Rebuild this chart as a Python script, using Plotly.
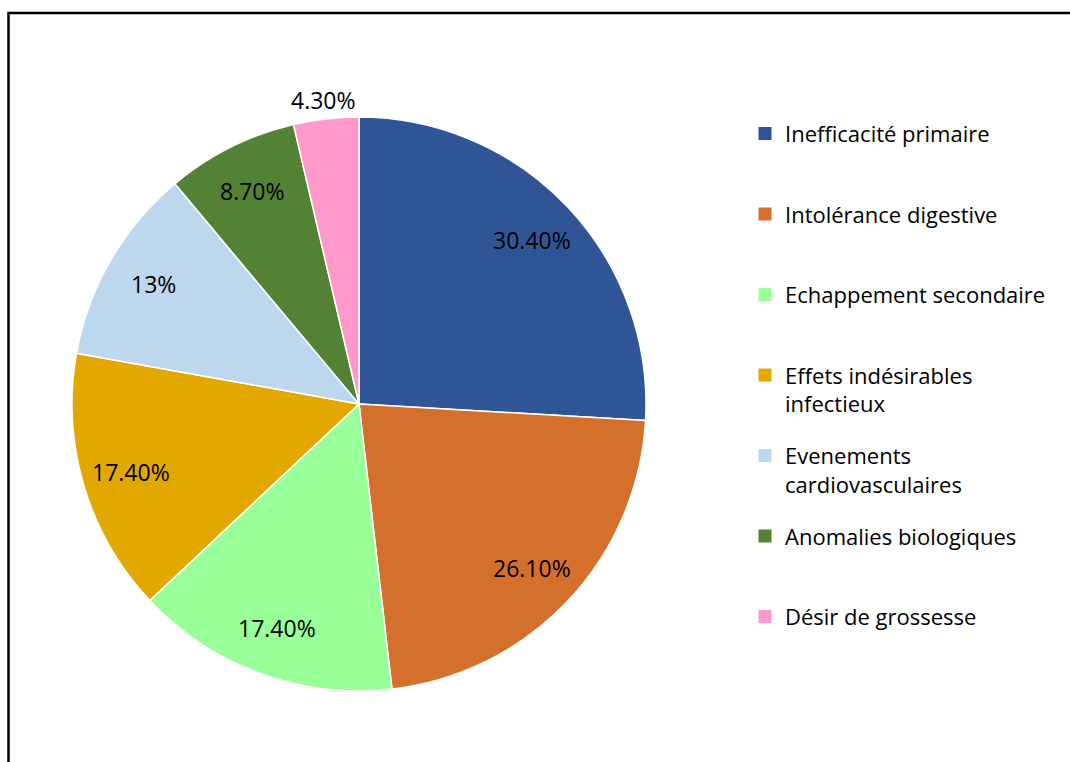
import math
import plotly.graph_objects as go

# ---- data ----
categories = [
    "Inefficacité primaire",
    "Intolérance digestive",
    "Echappement secondaire",
    "Effets indésirables<br>infectieux",
    "Evenements<br>cardiovasculaires",
    "Anomalies biologiques",
    "Désir de grossesse",
]
values = [30.4, 26.1, 17.4, 17.4, 13.0, 8.7, 4.3]
value_labels = ["30.40%", "26.10%", "17.40%", "17.40%", "13%", "8.70%", "4.30%"]
label_outside = [False, False, False, False, False, False, True]
colors = ["#2F5597", "#D4702C", "#99FF99", "#E2A800", "#BDD7EE", "#548235", "#FF99CC"]

# ---- geometry / style ----
W, H = 1070, 762
CX, CY, R = 359, 404, 287
FONT = "Open Sans, Lato, sans-serif"
LEG_SIZE = 22
LBL_SIZE = 23


def pad(lbl, n=2):
    k = lbl.count("<br>") + 1
    return lbl + "<br>&nbsp;" * (n - k)


fig = go.Figure()
fig.add_trace(
    go.Pie(
        labels=categories,
        values=values,
        sort=False,
        direction="clockwise",
        rotation=0,
        marker=dict(colors=colors, line=dict(color="white", width=1.5)),
        textinfo="none",
        hoverinfo="label+percent",
        showlegend=False,
        domain=dict(x=[(CX - R) / W, (CX + R) / W], y=[1 - (CY + R) / H, 1 - (CY - R) / H]),
    )
)

# legend entries (one group per category so that spacing matches the reference)
for i, (cat, col) in enumerate(zip(categories, colors)):
    fig.add_trace(
        go.Scatter(
            x=[None], y=[None], mode="markers",
            marker=dict(symbol="square", size=13, color=col),
            name=pad(cat), legendgroup=str(i), showlegend=True, hoverinfo="skip",
        )
    )

# data labels placed along each slice's bisector, computed from the values
total = sum(values)
cum = 0.0
annotations = []
for v, txt, out in zip(values, value_labels, label_outside):
    mid = (cum + v / 2) / total * 2 * math.pi
    cum += v
    f = 1.065 if out else 0.83
    px = CX + R * f * math.sin(mid)
    py = CY - R * f * math.cos(mid)
    annotations.append(dict(
        x=px / W, y=1 - py / H, xref="paper", yref="paper",
        text=txt, showarrow=False, xanchor="center", yanchor="middle",
        font=dict(family=FONT, size=LBL_SIZE, color="black"),
    ))

item_h = 2 * 1.3 * LEG_SIZE + 3
fig.update_layout(
    width=W, height=H,
    margin=dict(l=0, r=0, t=0, b=0),
    paper_bgcolor="white",
    plot_bgcolor="white",
    xaxis=dict(visible=False),
    yaxis=dict(visible=False),
    showlegend=True,
    legend=dict(
        x=745 / W, xanchor="left", y=0.852, yanchor="top",
        valign="top",
        font=dict(family=FONT, size=LEG_SIZE, color="black"),
        bgcolor="rgba(0,0,0,0)",
        tracegroupgap=80.5 - item_h,
        traceorder="grouped",
    ),
    annotations=annotations,
    shapes=[dict(
        type="rect", xref="paper", yref="paper",
        x0=8.5 / W, x1=1.05, y0=-0.05, y1=1 - 13 / H,
        line=dict(color="black", width=2.5), fillcolor="rgba(0,0,0,0)",
    )],
)

fig.write_html(
    "out.html",
    config={"displayModeBar": False},
    post_script="document.body.style.margin='0px';",
)
